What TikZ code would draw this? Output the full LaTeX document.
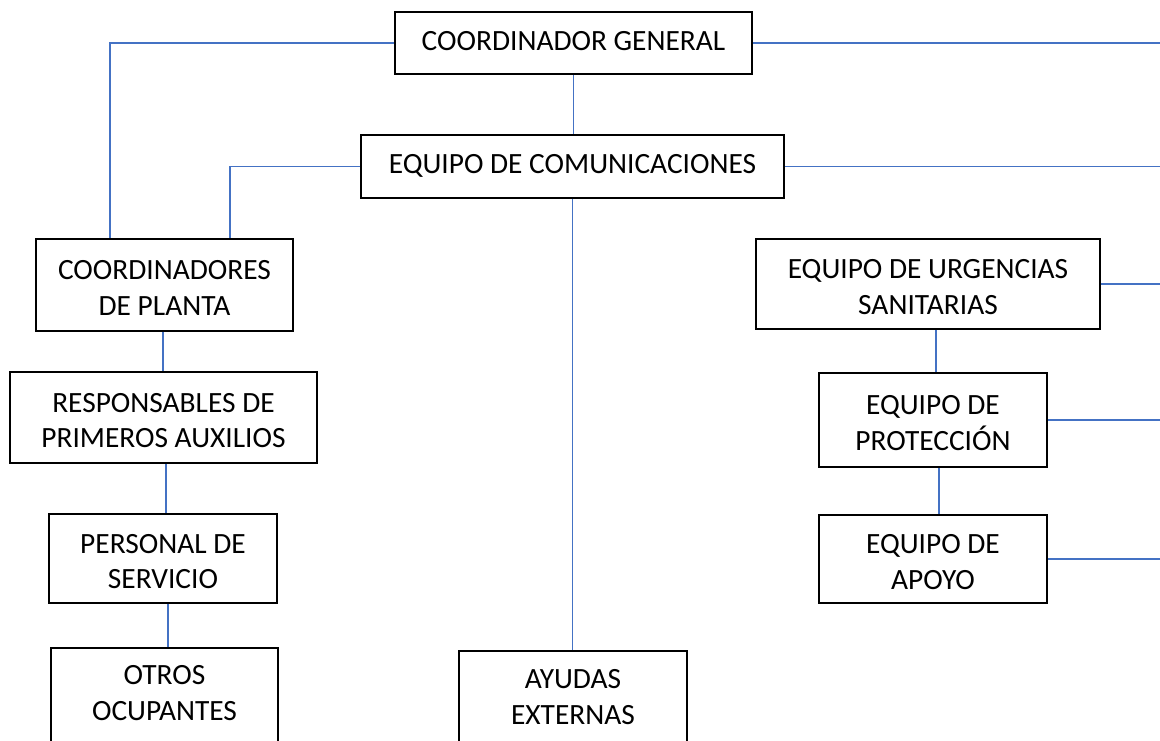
\documentclass[tikz,border=0pt]{standalone}
\usepackage{fontspec}
\setmainfont{Carlito}
\definecolor{linkblue}{RGB}{68,114,196}
\begin{document}
\begin{tikzpicture}[x=1pt,y=-1pt,
  every node/.style={font=\fontsize{29.4}{35.5}\selectfont, align=center, inner sep=0pt},
  box/.style={draw=black, line width=1.8pt},
  one/.style={text height=19pt, text depth=5pt},
  two/.style={text height=60pt, text depth=0pt},
  conn/.style={draw=linkblue, line width=1.9pt}]
\useasboundingbox (0,0) rectangle (1160,740);
\clip (0,0) rectangle (1160,740);
\coordinate (R) at (1160,0);

\node[box,one,minimum width=357pt,minimum height=62pt] (cg) at (573.5,43) {COORDINADOR GENERAL};
\node[box,one,minimum width=423pt,minimum height=63pt] (ec) at (572.5,166.5) {EQUIPO DE COMUNICACIONES};
\node[box,two,minimum width=257pt,minimum height=92pt] (cp) at (164.5,285) {COORDINADORES\\DE PLANTA};
\node[box,two,minimum width=307pt,minimum height=91pt] (rpa) at (163.5,417.5) {RESPONSABLES DE\\PRIMEROS AUXILIOS};
\node[box,two,minimum width=228pt,minimum height=89pt] (ps) at (163,558.5) {PERSONAL DE\\SERVICIO};
\node[box,minimum width=227pt,minimum height=140pt,anchor=north] (oobox) at (164.5,647) {};
\node[two] (oo) at (164.5,690) {OTROS\\OCUPANTES};
\node[box,minimum width=228pt,minimum height=140pt,anchor=north] (aebox) at (573,650) {};
\node[two] (ae) at (573,694) {AYUDAS\\EXTERNAS};
\node[box,two,minimum width=344pt,minimum height=90pt] (eus) at (928,284) {EQUIPO DE URGENCIAS\\SANITARIAS};
\node[box,two,minimum width=228pt,minimum height=94pt] (ep) at (933,420) {EQUIPO DE\\PROTECCIÓN};
\node[box,two,minimum width=228pt,minimum height=88pt] (ea) at (933,559) {EQUIPO DE\\APOYO};

\draw[conn] (cg.south) -- (cg.south |- ec.north);
\draw[conn] (cg.west) -| (110,0 |- cp.north);
\draw[conn] (ec.west) -| (230,0 |- cp.north);
\draw[conn] (cg.east) -- (cg.east -| R);
\draw[conn] (ec.east) -- (ec.east -| R);
\draw[conn] (ec.south) -- (ec.south |- aebox.north);
\draw[conn] (163,0 |- cp.south) -- (163,0 |- rpa.north);
\draw[conn] (166,0 |- rpa.south) -- (166,0 |- ps.north);
\draw[conn] (168,0 |- ps.south) -- (168,0 |- oobox.north);
\draw[conn] (eus.east) -- (eus.east -| R);
\draw[conn] (936,0 |- eus.south) -- (936,0 |- ep.north);
\draw[conn] (ep.east) -- (ep.east -| R);
\draw[conn] (939,0 |- ep.south) -- (939,0 |- ea.north);
\draw[conn] (ea.east) -- (ea.east -| R);
\end{tikzpicture}
\end{document}
